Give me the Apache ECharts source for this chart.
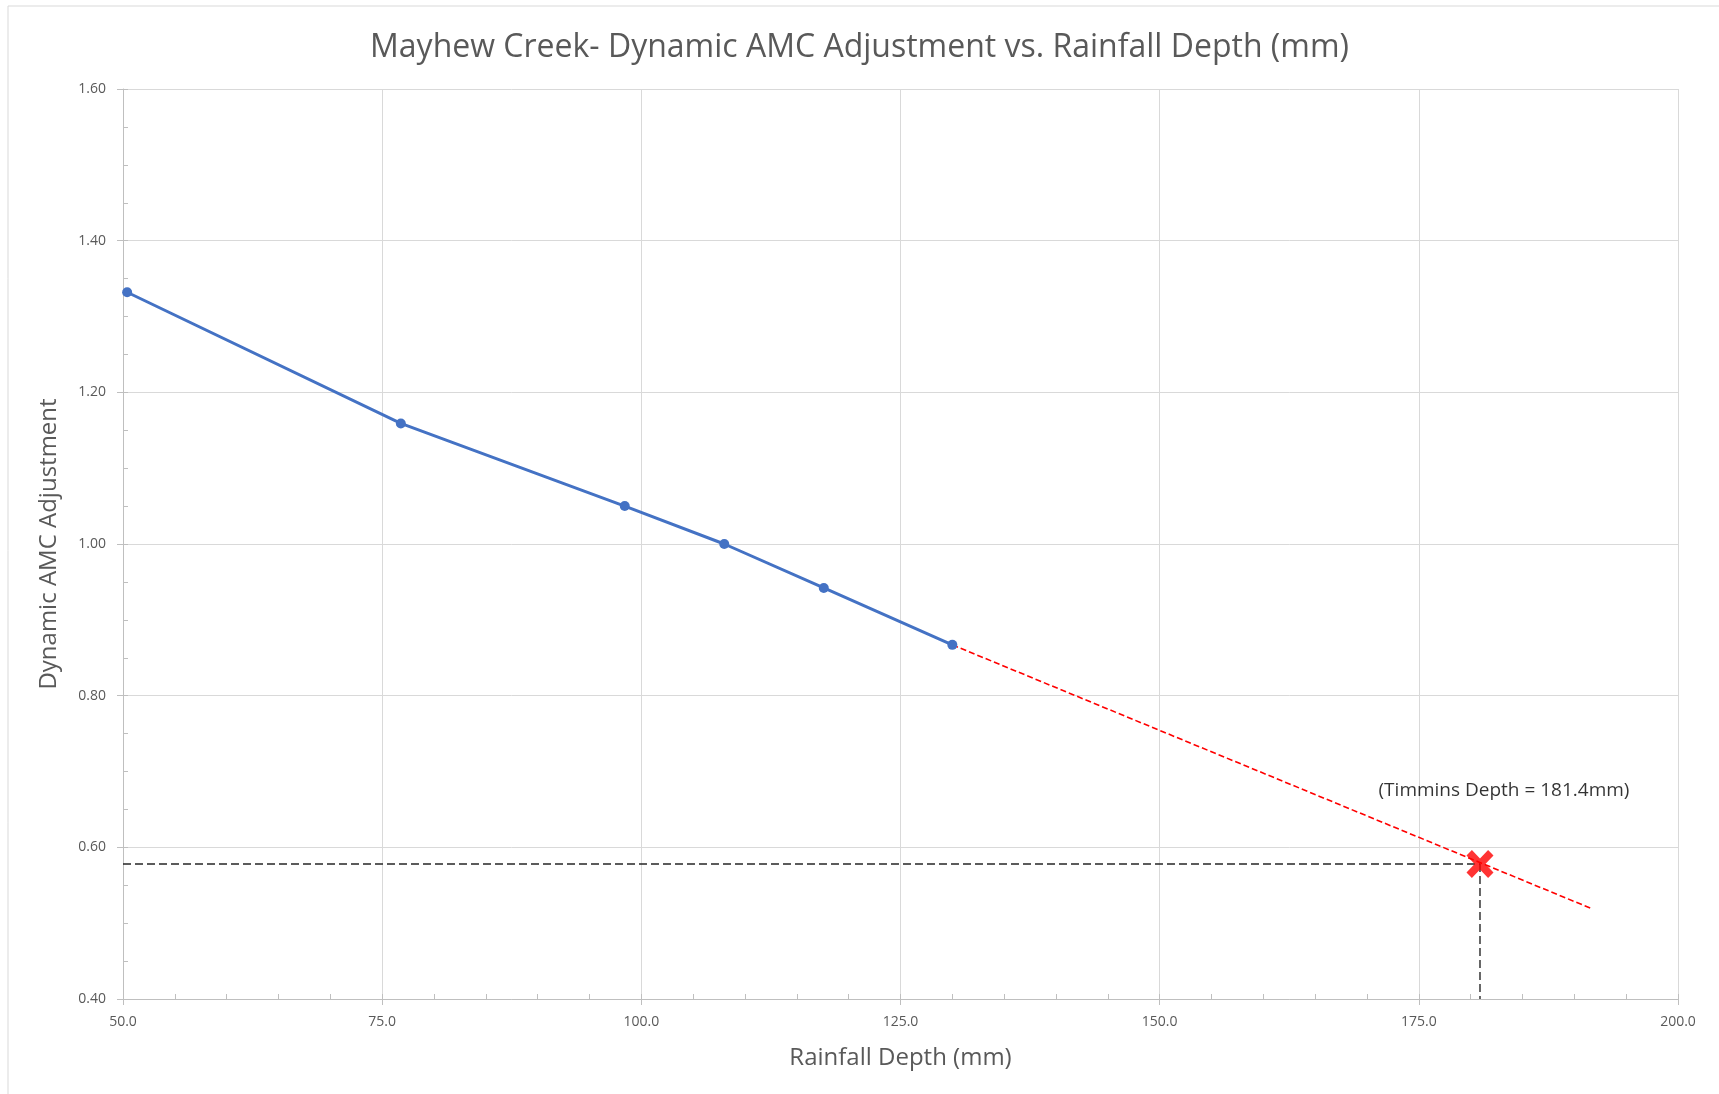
<!DOCTYPE html>
<html><head><meta charset="utf-8">
<script src="https://cdn.jsdelivr.net/npm/echarts@6/dist/echarts.min.js"></script>
<style>html,body{margin:0;padding:0;background:#fff}#c{width:1719px;height:1094px}</style>
</head><body><div id="c"></div>
<script>
var depthMm = [50.4, 76.8, 98.4, 108.0, 117.6, 130.0];
var amcAdj  = [1.332, 1.159, 1.050, 1.000, 0.942, 0.867];
var extrapX = [130.0, 191.7];
var extrapY = [0.867, 0.519];
var timminsX = 180.9;
var timminsY = 0.578;
var yMin = 0.4, yMax = 1.6, yStep = 0.2;
var xMin = 50, xMax = 200, xStep = 25, xMinor = 5, yMinor = 0.05;
var titleText = 'Mayhew Creek- Dynamic AMC Adjustment vs. Rainfall Depth (mm)';
var xName = 'Rainfall Depth (mm)';
var yName = 'Dynamic AMC Adjustment';
var noteText = '(Timmins Depth = 181.4mm)';

var FONT = 'Open Sans';
var chart = echarts.init(document.getElementById('c'));
var gridLine = '#d9d9d9';
var labelStyle = {color:'#595959', fontSize:14, fontFamily:FONT};
function zip(a,b){return a.map(function(v,i){return [v,b[i]];});}
var xPath = 'path://M4,0 L10,6 L16,0 L20,4 L14,10 L20,16 L16,20 L10,14 L4,20 L0,16 L6,10 L0,4 Z';

chart.setOption({
  animation:false,
  graphic:[{type:'rect',shape:{x:8,y:6,width:1800,height:1200},style:{fill:'none',stroke:'#d9d9d9',lineWidth:1},z:-10,silent:true}],
  title:{text:titleText,left:'center',top:27,textStyle:{fontFamily:FONT,fontSize:32,fontWeight:'normal',color:'#595959'}},
  grid:{left:123,top:89,right:41,bottom:95,containLabel:false},
  xAxis:[{
    type:'value',min:xMin,max:xMax,interval:xStep,position:'bottom',
    name:xName,nameLocation:'middle',nameGap:47,
    nameTextStyle:{fontFamily:FONT,fontSize:24,color:'#595959'},
    axisLine:{show:true,lineStyle:{color:'#bfbfbf',width:1}},
    axisTick:{show:true,inside:false,length:6,lineStyle:{color:'#bfbfbf'}},
    axisLabel:Object.assign({formatter:function(v){return v.toFixed(1);},margin:16},labelStyle),
    splitLine:{show:true,lineStyle:{color:gridLine,width:1}}
  },{
    type:'value',min:xMin,max:xMax,interval:xMinor,position:'bottom',
    axisLine:{show:false},axisTick:{show:true,inside:true,length:5,lineStyle:{color:'#bfbfbf'}},
    axisLabel:{show:false},splitLine:{show:false}
  }],
  yAxis:[{
    type:'value',min:yMin,max:yMax,interval:yStep,position:'left',
    name:yName,nameLocation:'middle',nameGap:62,nameRotate:90,
    nameTextStyle:{fontFamily:FONT,fontSize:24,color:'#595959'},
    axisLine:{show:true,lineStyle:{color:'#bfbfbf',width:1}},
    axisTick:{show:true,inside:false,length:6,lineStyle:{color:'#bfbfbf'}},
    axisLabel:Object.assign({formatter:function(v){return v.toFixed(2);},margin:17},labelStyle),
    splitLine:{show:true,lineStyle:{color:gridLine,width:1}}
  },{
    type:'value',min:yMin,max:yMax,interval:yMinor,position:'left',
    axisLine:{show:false},axisTick:{show:true,inside:true,length:5,lineStyle:{color:'#bfbfbf'}},
    axisLabel:{show:false},splitLine:{show:false}
  }],
  series:[
    {type:'line',data:zip(extrapX,extrapY),symbol:'none',lineStyle:{color:'#ff0000',width:1.6,type:[6,3]},z:2},
    {type:'line',data:[[xMin,timminsY],[timminsX,timminsY]],symbol:'none',lineStyle:{color:'#262626',width:1.4,type:[8,4]},z:2},
    {type:'line',data:[[timminsX,timminsY],[timminsX,yMin]],symbol:'none',lineStyle:{color:'#262626',width:1.4,type:[8,4]},z:2},
    {type:'line',data:zip(depthMm,amcAdj),symbol:'circle',symbolSize:10,
      itemStyle:{color:'#4472c4'},lineStyle:{color:'#4472c4',width:3},z:3},
    {type:'scatter',data:[[timminsX,timminsY]],symbol:xPath,symbolSize:[27,28],
      itemStyle:{color:'#ff0000'},z:4,
      label:{show:true,formatter:noteText,position:'inside',offset:[24,-73],
        fontFamily:FONT,fontSize:19,color:'#000000'}}
  ]
});
</script></body></html>
